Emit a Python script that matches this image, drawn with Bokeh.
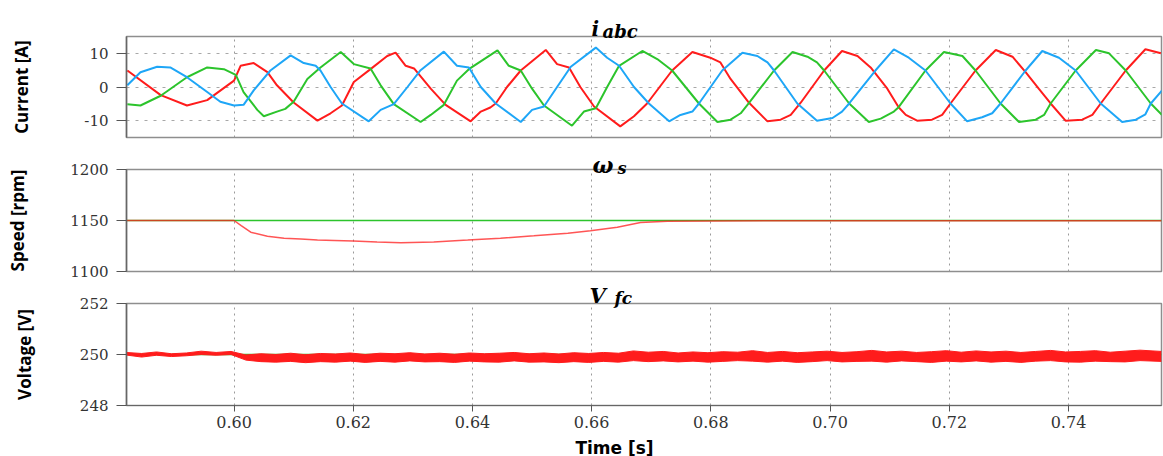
from bokeh.plotting import figure
from bokeh.layouts import column
from bokeh.models import FixedTicker, Range1d, PrintfTickFormatter
from bokeh.embed import file_html
from bokeh.resources import INLINE
from bokeh.core.properties import value

# ---------------- data ----------------
time_ticks = [0.60, 0.62, 0.64, 0.66, 0.68, 0.70, 0.72, 0.74]
time_range = [0.58196, 0.7556]

current_range = [-15, 15]
current_ticks = [-10, 0, 10]
current_tick_labels = ["-10", "0", "10"]
speed_range = [1100, 1200]
speed_ticks = [1100, 1150, 1200]
speed_tick_labels = ["1100", "1150", "1200"]
voltage_range = [248, 252]
voltage_ticks = [248, 250, 252]
voltage_tick_labels = ["248", "250", "252"]

# phase a (red)
ia_t = [0.5821, 0.5877, 0.5921, 0.5955, 0.6000, 0.6011, 0.6033, 0.6056, 0.6072, 0.6100,
        0.6140, 0.6162, 0.6181, 0.6201, 0.6229, 0.6257, 0.6271, 0.6288, 0.6302, 0.6330,
        0.6355, 0.6397, 0.6414, 0.6430, 0.6439, 0.6458, 0.6481, 0.6523, 0.6542, 0.6562,
        0.6581, 0.6604, 0.6648, 0.6671, 0.6693, 0.6735, 0.6769, 0.6799, 0.6816, 0.6833,
        0.6864, 0.6895, 0.6917, 0.6934, 0.6951, 0.6990, 0.7020, 0.7046, 0.7068, 0.7096,
        0.7115, 0.7127, 0.7146, 0.7171, 0.7188, 0.7202, 0.7244, 0.7278, 0.7306, 0.7328,
        0.7350, 0.7370, 0.7395, 0.7423, 0.7440, 0.7454, 0.7496, 0.7529, 0.7555]
ia = [4.9, -2.4, -5.5, -3.9, 1.9, 6.3, 7.1, 4.4, 0.5, -4.6,
      -10.0, -7.8, -5.5, 1.5, 5.3, 9.2, 10.2, 6.3, 5.5, -0.5,
      -5.3, -10.2, -7.3, -6.1, -4.9, 0.0, 4.9, 11.0, 6.8, 5.8,
      0.0, -5.8, -11.7, -8.7, -4.9, 4.9, 10.4, 8.7, 7.3, 2.4,
      -4.7, -10.2, -9.7, -8.3, -4.6, 4.9, 10.7, 9.2, 5.8, -0.5,
      -6.0, -8.3, -10.0, -9.7, -8.3, -4.9, 4.9, 11.0, 9.0, 4.4,
      -0.5, -4.9, -10.0, -9.7, -8.3, -4.9, 4.9, 11.2, 10.0]

# phase b (blue)
ib_t = [0.5821, 0.5843, 0.5871, 0.5893, 0.5921, 0.5955, 0.5977, 0.6000, 0.6016, 0.6033,
        0.6061, 0.6095, 0.6117, 0.6137, 0.6145, 0.6162, 0.6181, 0.6226, 0.6246, 0.6268,
        0.6291, 0.6313, 0.6352, 0.6374, 0.6394, 0.6414, 0.6439, 0.6481, 0.6500, 0.6520,
        0.6542, 0.6565, 0.6607, 0.6626, 0.6646, 0.6671, 0.6696, 0.6730, 0.6749, 0.6769,
        0.6780, 0.6819, 0.6853, 0.6878, 0.6895, 0.6906, 0.6945, 0.6978, 0.7004, 0.7020,
        0.7032, 0.7076, 0.7107, 0.7132, 0.7160, 0.7202, 0.7230, 0.7255, 0.7272, 0.7286,
        0.7328, 0.7356, 0.7384, 0.7412, 0.7454, 0.7490, 0.7513, 0.7529, 0.7538, 0.7557]
ib = [0.5, 4.4, 6.0, 5.8, 2.9, -1.5, -4.4, -5.5, -5.3, -1.0,
      4.9, 9.4, 7.1, 6.3, 4.9, 0.0, -4.9, -10.2, -6.8, -5.1,
      0.0, 5.0, 10.5, 6.3, 5.8, 0.0, -4.9, -10.4, -6.8, -5.8,
      0.0, 6.0, 11.7, 8.7, 6.3, 0.0, -4.9, -10.2, -8.3, -7.3,
      -4.9, 4.9, 10.2, 9.2, 7.3, 4.9, -4.9, -10.0, -9.2, -7.3,
      -4.9, 4.9, 11.2, 8.7, 4.9, -4.9, -10.2, -9.0, -7.8, -4.9,
      4.9, 10.7, 8.7, 4.9, -4.9, -10.4, -9.7, -8.1, -4.9, -1.0]

# phase c (green)
ic_t = [0.5821, 0.5843, 0.5877, 0.5921, 0.5955, 0.5983, 0.6003, 0.6016, 0.6039, 0.6050,
        0.6072, 0.6086, 0.6100, 0.6123, 0.6145, 0.6179, 0.6201, 0.6229, 0.6246, 0.6268,
        0.6313, 0.6330, 0.6352, 0.6374, 0.6394, 0.6442, 0.6461, 0.6481, 0.6500, 0.6520,
        0.6567, 0.6587, 0.6607, 0.6626, 0.6646, 0.6685, 0.6710, 0.6735, 0.6780, 0.6811,
        0.6833, 0.6850, 0.6864, 0.6906, 0.6937, 0.6962, 0.6978, 0.6990, 0.7032, 0.7065,
        0.7085, 0.7107, 0.7115, 0.7160, 0.7191, 0.7222, 0.7244, 0.7286, 0.7317, 0.7345,
        0.7359, 0.7370, 0.7412, 0.7446, 0.7468, 0.7496, 0.7538, 0.7557]
ic = [-5.1, -5.5, -2.6, 2.9, 5.8, 5.3, 3.6, -1.5, -6.8, -8.7,
      -7.3, -6.5, -4.4, 2.4, 5.8, 10.4, 6.8, 5.5, 0.5, -5.1,
      -10.4, -8.3, -5.3, 1.9, 5.3, 10.9, 6.3, 4.9, -0.5, -5.5,
      -11.5, -7.3, -6.3, 0.0, 6.3, 10.7, 8.3, 4.9, -4.9, -10.4,
      -9.7, -7.8, -4.7, 4.9, 10.4, 9.0, 7.3, 4.9, -4.9, -10.4,
      -9.4, -7.3, -6.0, 4.9, 10.4, 9.2, 4.9, -4.9, -10.4, -9.7,
      -8.3, -4.9, 4.9, 11.0, 10.0, 4.9, -4.9, -8.3]

# speed: reference (green) and measured (red)
speed_ref_t = [0.5819, 0.7556]
speed_ref = [1150, 1150]
speed_t = [0.5819, 0.6000, 0.6012, 0.6028, 0.6056, 0.6084, 0.6112, 0.6140, 0.6168, 0.6200,
           0.6240, 0.6280, 0.6335, 0.6392, 0.6447, 0.6503, 0.6560, 0.6598, 0.6643, 0.6682,
           0.6727, 0.6800, 0.7000, 0.7200, 0.7400, 0.7556]
speed = [1150, 1150, 1145, 1138.5, 1134.5, 1132.6, 1131.8, 1130.8, 1130.4, 1129.8,
         1128.8, 1128.3, 1129.0, 1130.8, 1132.6, 1135.0, 1137.6, 1140.0, 1143.4, 1148.0,
         1149.2, 1149.6, 1149.8, 1149.7, 1149.8, 1149.8]

# fuel-cell voltage: reference (green) and measured band envelope (red)
vfc_ref_t = [0.5819, 0.7556]
vfc_ref = [250, 250]
vfc_t = [0.5819, 0.5845, 0.5870, 0.5895, 0.5920, 0.5945, 0.5970, 0.5995, 0.6020, 0.6045,
         0.6070, 0.6095, 0.6120, 0.6145, 0.6170, 0.6195, 0.6220, 0.6245, 0.6270, 0.6295,
         0.6320, 0.6345, 0.6370, 0.6395, 0.6420, 0.6445, 0.6470, 0.6495, 0.6520, 0.6545,
         0.6570, 0.6595, 0.6620, 0.6645, 0.6670, 0.6695, 0.6720, 0.6745, 0.6770, 0.6795,
         0.6820, 0.6845, 0.6870, 0.6895, 0.6920, 0.6945, 0.6970, 0.6995, 0.7020, 0.7045,
         0.7070, 0.7095, 0.7120, 0.7145, 0.7170, 0.7195, 0.7220, 0.7245, 0.7270, 0.7295,
         0.7320, 0.7345, 0.7370, 0.7395, 0.7420, 0.7445, 0.7470, 0.7495, 0.7520, 0.7556]
vfc_upper = [250.08, 250.04, 250.10, 250.03, 250.06, 250.13, 250.08, 250.12, 249.98, 250.03,
             250.00, 250.05, 249.99, 250.04, 250.02, 250.06, 250.00, 250.05, 250.03, 250.07,
             250.02, 250.05, 250.01, 250.06, 250.03, 250.05, 250.08, 250.03, 250.06, 250.02,
             250.07, 250.04, 250.08, 250.05, 250.14, 250.09, 250.12, 250.06, 250.10, 250.07,
             250.11, 250.09, 250.15, 250.08, 250.12, 250.07, 250.10, 250.13, 250.08, 250.11,
             250.16, 250.10, 250.13, 250.08, 250.11, 250.15, 250.09, 250.14, 250.10, 250.13,
             250.08, 250.12, 250.16, 250.10, 250.12, 250.15, 250.09, 250.13, 250.17, 250.12]
vfc_lower = [249.98, 249.90, 249.97, 249.92, 249.95, 250.00, 249.97, 250.00, 249.78, 249.72,
             249.70, 249.73, 249.68, 249.72, 249.70, 249.74, 249.69, 249.73, 249.70, 249.75,
             249.71, 249.72, 249.69, 249.74, 249.71, 249.70, 249.75, 249.70, 249.71, 249.68,
             249.72, 249.69, 249.73, 249.70, 249.76, 249.72, 249.75, 249.71, 249.74, 249.70,
             249.73, 249.76, 249.74, 249.70, 249.74, 249.69, 249.72, 249.76, 249.71, 249.73,
             249.74, 249.70, 249.75, 249.72, 249.69, 249.74, 249.71, 249.75, 249.70, 249.73,
             249.69, 249.74, 249.76, 249.71, 249.70, 249.74, 249.72, 249.71, 249.76, 249.73]

# ---------------- style / layout ----------------
RED = "#ff1c1c"
GREEN = "#2cc42c"
BLUE = "#1ea6f7"
W = 1163
LEFT = 126
RIGHT = 2
TICK_FONT = "DejaVu Serif"
LABEL_FONT = "Open Sans"
TITLE_FONT = "DejaVu Serif"
FRAME_W = W - LEFT - RIGHT
FRAME_H1 = 101
FRAME_H = 102

xr = Range1d(time_range[0], time_range[1])


def px_to_t(px):
    """page x pixel -> time value (frame spans LEFT..W-RIGHT)."""
    return time_range[0] + (px - LEFT) * (time_range[1] - time_range[0]) / FRAME_W


def above_frame(yr, frame_h, px):
    return yr[1] + px * (yr[1] - yr[0]) / frame_h


def below_frame(yr, frame_h, px):
    return yr[0] - px * (yr[1] - yr[0]) / frame_h


def make_fig(top, frame_h, bottom, yr, yticks, ylabels, ylabel, standoff, show_x):
    p = figure(width=W, height=top + frame_h + bottom, x_range=xr,
               y_range=Range1d(yr[0], yr[1]),
               output_backend="svg", toolbar_location=None,
               min_border_left=LEFT, min_border_right=RIGHT,
               min_border_top=top, min_border_bottom=bottom)
    p.background_fill_color = "white"
    p.border_fill_color = "white"
    p.outline_line_color = "#8e8e8e"
    p.outline_line_width = 1.5

    p.xaxis.ticker = FixedTicker(ticks=time_ticks)
    p.xaxis.formatter = PrintfTickFormatter(format="%.2f")
    p.xaxis.major_tick_out = 6
    p.xaxis.major_tick_in = 0
    p.xaxis.minor_tick_out = 0
    p.xaxis.minor_tick_in = 0
    p.xaxis.major_tick_line_color = "#555555"
    p.xaxis.axis_line_color = "#666666"
    p.xaxis.major_label_text_font = TICK_FONT
    p.xaxis.major_label_text_font_size = "16px"
    p.xaxis.major_label_text_color = "#333333"
    p.xaxis.major_label_standoff = 4
    p.xaxis.visible = show_x

    p.yaxis.ticker = FixedTicker(ticks=yticks)
    p.yaxis.major_label_overrides = dict(zip(yticks, ylabels))
    p.yaxis.major_tick_out = 10
    p.yaxis.major_tick_in = 0
    p.yaxis.minor_tick_out = 0
    p.yaxis.minor_tick_in = 0
    p.yaxis.major_tick_line_color = "#555555"
    p.yaxis.axis_line_color = "#666666"
    p.yaxis.axis_line_width = 1.5
    p.yaxis.major_label_text_font = TICK_FONT
    p.yaxis.major_label_text_font_size = "15px"
    p.yaxis.major_label_text_color = "#333333"
    p.yaxis.major_label_standoff = 8
    p.yaxis.axis_label = ylabel
    p.yaxis.axis_label_text_font = LABEL_FONT
    p.yaxis.axis_label_text_font_size = "17px"
    p.yaxis.axis_label_text_font_style = "bold"
    p.yaxis.axis_label_text_color = "#000000"
    p.yaxis.axis_label_standoff = standoff

    p.xgrid.ticker = FixedTicker(ticks=time_ticks)
    p.xgrid.grid_line_color = "#9a9a9a"
    p.xgrid.grid_line_dash = "2 4"
    p.xgrid.grid_line_width = 1
    p.ygrid.ticker = FixedTicker(ticks=yticks)
    p.ygrid.grid_line_color = "#a8a8a8"
    p.ygrid.grid_line_dash = "3 6"
    p.ygrid.grid_line_width = 1
    return p


def title_text(p, text, px, y, size, style="bold italic", font=TITLE_FONT, align="left"):
    # overlay-level text so it may sit in the border above/below the frame
    p.text(x=[px_to_t(px)], y=[y], text=[text],
           text_font=value(font), text_font_style=style,
           text_font_size=size, text_color="#000000",
           text_align=align, text_baseline="alphabetic", level="overlay")


# ---- current ---- (page 0..147, frame 36..137)
p1 = make_fig(36, FRAME_H1, 10, current_range, current_ticks, current_tick_labels,
              "Current [A]", 48, False)
p1.line(ia_t, ia, line_color=RED, line_width=2)
p1.line(ic_t, ic, line_color=GREEN, line_width=2)
p1.line(ib_t, ib, line_color=BLUE, line_width=2)
title_text(p1, "i", 591, above_frame(current_range, FRAME_H1, 8), "20px")
title_text(p1, "abc", 602, above_frame(current_range, FRAME_H1, 5), "18px")

# ---- speed ---- (page 147..280, frame 169..271)
p2 = make_fig(22, FRAME_H, 9, speed_range, speed_ticks, speed_tick_labels,
              "Speed [rpm]", 38, False)
p2.line(speed_ref_t, speed_ref, line_color=GREEN, line_width=1.5)
p2.line(speed_t, speed, line_color=RED, line_width=1.5, line_alpha=0.75)
title_text(p2, "ω", 592, above_frame(speed_range, FRAME_H, 5), "22px")
title_text(p2, "s", 617, above_frame(speed_range, FRAME_H, 1), "16px")

# ---- voltage ---- (page 280..456, frame 303..405)
p3 = make_fig(23, FRAME_H, 51, voltage_range, voltage_ticks, voltage_tick_labels,
              "Voltage [V]", 41, True)
p3.line(vfc_ref_t, vfc_ref, line_color=GREEN, line_width=1.5)
p3.varea(x=vfc_t, y1=vfc_lower, y2=vfc_upper, fill_color=RED, fill_alpha=1.0)
p3.line(vfc_t, vfc_upper, line_color=RED, line_width=1)
p3.line(vfc_t, vfc_lower, line_color=RED, line_width=1)
title_text(p3, "V", 589, above_frame(voltage_range, FRAME_H, 8), "21px")
title_text(p3, "fc", 614, above_frame(voltage_range, FRAME_H, 6), "17px")
title_text(p3, "Time [s]", 614, below_frame(voltage_range, FRAME_H, 42), "17px",
           style="bold", font="DejaVu Sans", align="center")

layout = column(p1, p2, p3, spacing=0)
open("out.html", "w").write(file_html(layout, INLINE))
